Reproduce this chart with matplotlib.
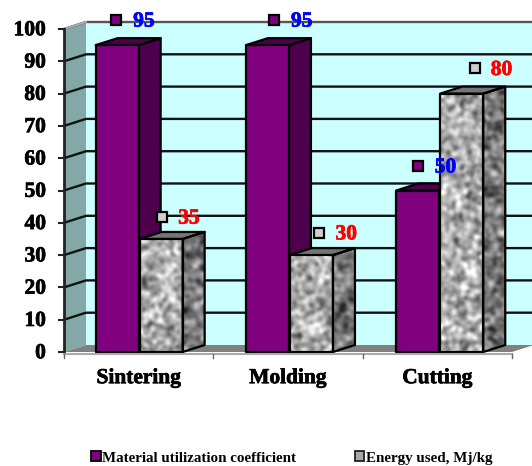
import numpy as np
import matplotlib
matplotlib.use("Agg")
import matplotlib.pyplot as plt
import matplotlib.patheffects as pe
from matplotlib.patches import Polygon, Patch

categories = ["Sintering", "Molding", "Cutting"]
material = [95, 95, 50]
energy = [35, 30, 80]
y_ticks = [0, 10, 20, 30, 40, 50, 60, 70, 80, 90, 100]
legend_labels = ["Material utilization coefficient", "Energy used, Mj/kg"]

PURPLE = "#800080"
PURPLE_SIDE = "#4d004d"
WALL = "#ccffff"
SIDE_WALL = "#84a8a8"
FLOOR = "#808080"

plt.rcParams["font.family"] = ["Liberation Serif", "DejaVu Serif"]
plt.rcParams["font.weight"] = "bold"

# one axes over the whole figure: 1 category = 149.3 px, 1 unit = 3.23 px
PX_X, PX_Y = 149.3, 3.23
W, H = 532, 466
X0, Y0 = 64, 352
DX, DY = 22 / PX_X, 7 / PX_Y          # 3d depth
BAR_W = 43 / PX_X

fig = plt.figure(figsize=(W / 100, H / 100), dpi=100)
ax = fig.add_axes([0, 0, 1, 1])
ax.set_xlim(-X0 / PX_X, (W - X0) / PX_X)
ax.set_ylim((Y0 - H) / PX_Y, Y0 / PX_Y)
ax.axis("off")

rng = np.random.default_rng(7)
HEAVY = [pe.withStroke(linewidth=0.5, foreground="black")]


def granite(h, w, sigma=2.0):
    # blurred noise, only used as the surface texture of the grey bars
    n = rng.normal(size=(h, w))
    fy = np.fft.fftfreq(h)[:, None]
    fx = np.fft.fftfreq(w)[None, :]
    g = np.exp(-2 * (np.pi * sigma) ** 2 * (fx ** 2 + fy ** 2))
    s = np.fft.ifft2(np.fft.fft2(n) * g).real
    return (s - s.mean()) / s.std()


def poly(pts, fc, ec="black", lw=1.6, z=2):
    p = Polygon(pts, closed=True, facecolor=fc, edgecolor=ec, linewidth=lw, zorder=z, joinstyle="round")
    ax.add_patch(p)
    return p


def textured(pts, base, spread, z):
    arr = np.array(pts)
    x0, x1 = arr[:, 0].min(), arr[:, 0].max()
    y0, y1 = arr[:, 1].min(), arr[:, 1].max()
    h = max(int((y1 - y0) * PX_Y), 4)
    w = max(int((x1 - x0) * PX_X), 4)
    tex = np.clip(base + spread * granite(h, w), 0, 1)
    im = ax.imshow(tex, extent=[x0, x1, y0, y1], cmap="gray", vmin=0, vmax=1,
                   aspect="auto", zorder=z, interpolation="bilinear")
    clip = Polygon(pts, closed=True, transform=ax.transData, facecolor="none")
    im.set_clip_path(clip)
    poly(pts, "none", z=z + 0.01)


def bar3d(x, v, z, kind):
    front = [(x, 0), (x + BAR_W, 0), (x + BAR_W, v), (x, v)]
    side = [(x + BAR_W, 0), (x + BAR_W + DX, DY), (x + BAR_W + DX, v + DY), (x + BAR_W, v)]
    top = [(x, v), (x + BAR_W, v), (x + BAR_W + DX, v + DY), (x + DX, v + DY)]
    if kind == "material":
        poly(side, PURPLE_SIDE, z=z)
        poly(top, PURPLE_SIDE, z=z)
        poly(front, PURPLE, z=z)
    else:
        textured(side, 0.47, 0.11, z)
        poly(top, "#757575", z=z)
        textured(front, 0.68, 0.12, z)


n = len(categories)
xmax = float(n)

# walls and floor
poly([(DX, DY), (xmax + DX, DY), (xmax + DX, 100 + DY), (DX, 100 + DY)], WALL, ec="none", lw=0, z=0)
poly([(0, 0), (DX, DY), (DX, 100 + DY), (0, 100)], SIDE_WALL, ec="none", lw=0, z=0)
poly([(0, 0), (xmax, 0), (xmax + DX, DY), (DX, DY)], FLOOR, ec="none", lw=0, z=0.5)

# gridlines run up the side wall and along the back wall
for t in y_ticks[1:]:
    c = "#555555" if t == 100 else "#111111"
    ax.plot([0, DX, xmax + DX], [t, t + DY, t + DY], color=c, lw=1.7, zorder=1, solid_capstyle="butt")

# axes
ax.plot([0, 0], [0, 100], color="#222222", lw=2, zorder=5)
ax.plot([0, DX], [100, 100 + DY], color="#aaaaaa", lw=1.5, zorder=1)
ax.plot([0, xmax], [-0.6, -0.6], color="#aaaaaa", lw=1.5, zorder=5)
for i in range(n + 1):
    ax.plot([i, i], [-0.6, -2], color="#666666", lw=1, zorder=5)
for t in y_ticks:
    ax.plot([-5 / PX_X, 0], [t, t], color="#222222", lw=1.5, zorder=5)
    ax.text(-18 / PX_X, t - 0.4, str(t), ha="right", va="center", fontsize=15.5, color="black",
            path_effects=HEAVY)

# bars, left to right so nearer faces overlap (each group sits 1 px further right than the last)
for i in range(n):
    mid = i + 0.5 + i / PX_X
    bar3d(mid - BAR_W, material[i], 2 + i, "material")
    bar3d(mid + 1 / PX_X, energy[i], 2.5 + i, "energy")

# marker + value label pairs float above each bar
mat_shift = [-1, 6.5, 0]       # px, marker x shift from bar centre
en_shift = [1, 8, 13]
mat_rise = [7.8, 7.8, 7.6]     # units above bar top
en_rise = [6.8, 6.9, 7.8]
for i in range(n):
    mid = i + 0.5 + i / PX_X
    mx = mid - BAR_W / 2 + mat_shift[i] / PX_X
    my = material[i] + mat_rise[i]
    ax.plot(mx, my, "s", ms=7.3, mfc=PURPLE, mec="black", mew=1.6, zorder=10)
    ax.text(mx + 17 / PX_X, my - 0.5, str(material[i]), color="#0000ff", fontsize=15.5,
            ha="left", va="center", zorder=10,
            path_effects=[pe.withStroke(linewidth=0.5, foreground="#0000ff")])
    ex = mid + BAR_W / 2 + 1 / PX_X + en_shift[i] / PX_X
    ey = energy[i] + en_rise[i]
    ax.plot(ex, ey, "s", ms=7.3, mfc="#cfcfcf", mec="black", mew=1.6, zorder=10)
    ax.text(ex + 16 / PX_X, ey - 0.5, str(energy[i]), color="#ff0000", fontsize=15.5,
            ha="left", va="center", zorder=10,
            path_effects=[pe.withStroke(linewidth=0.5, foreground="#ff0000")])

for i, c in enumerate(categories):
    ax.text(i + 0.5, -8.1, c, ha="center", va="center", fontsize=15.4, color="black",
            path_effects=HEAVY)

handles = [Patch(facecolor=PURPLE, edgecolor="black", lw=1.3),
           Patch(facecolor="#a8a8a8", edgecolor="#222222", lw=1.3)]
ax.legend(handles, legend_labels, ncol=2, loc="center", bbox_to_anchor=(291.5 / W, 1 - 458 / H),
          frameon=False, fontsize=10.8, handlelength=0.65, handleheight=0.65,
          handletextpad=0.1, columnspacing=3.9, borderpad=0)

fig.savefig("out.png", dpi=100)
